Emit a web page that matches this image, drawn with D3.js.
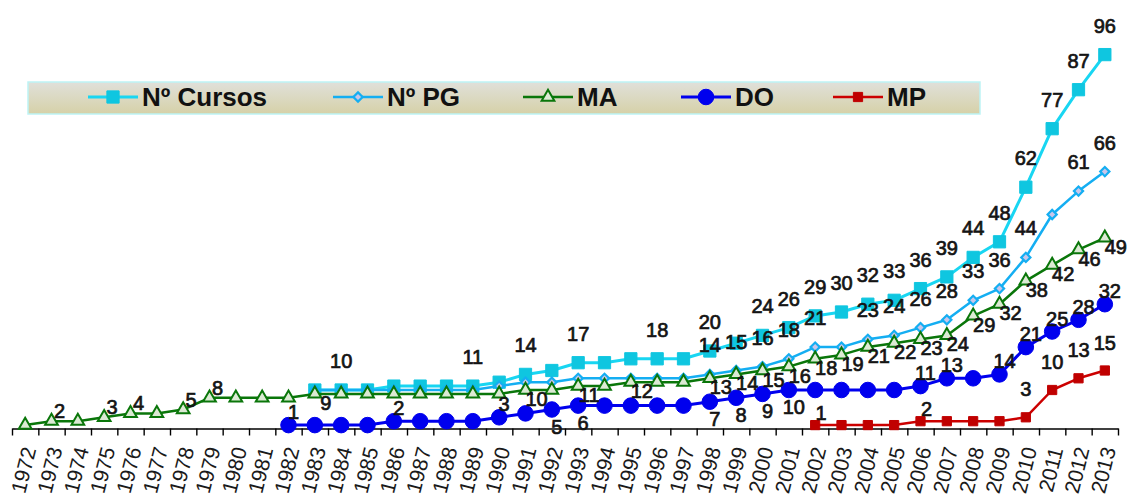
<!DOCTYPE html>
<html>
<head>
<meta charset="utf-8">
<script src="https://cdn.jsdelivr.net/npm/d3@7"></script>
<style>
  body { margin: 0; background: #fff; }
  text { font-family: "Liberation Sans", Arial, sans-serif; }
</style>
</head>
<body>
<div id="graphic"></div>
<script>
// categories (x axis)
var yearLabels = ["1972", "1973", "1974", "1975", "1976", "1977", "1978", "1979", "1980", "1981",
    "1982", "1983", "1984", "1985", "1986", "1987", "1988", "1989", "1990", "1991",
    "1992", "1993", "1994", "1995", "1996", "1997", "1998", "1999", "2000", "2001",
    "2002", "2003", "2004", "2005", "2006", "2007", "2008", "2009", "2010", "2011",
    "2012", "2013"];

// series values, each starting at its first year
var cursosStart = 1983;
var cursos = [10, 10, 10, 11, 11, 11, 11, 12, 14, 15, 17, 17, 18, 18, 18, 20, 22, 24, 26, 29,
    30, 32, 33, 36, 39, 44, 48, 62, 77, 87, 96];
var pgStart = 1983;
var pg = [10, 10, 10, 10, 10, 10, 10, 11, 12, 12, 13, 13, 13, 13, 13, 14, 15, 16, 18, 21,
    21, 23, 24, 26, 28, 33, 36, 44, 55, 61, 66];
var maStart = 1972;
var ma = [1, 2, 2, 3, 4, 4, 5, 8, 8, 8, 8, 9, 9, 9, 9, 9, 9, 9, 9, 10,
    10, 11, 11, 12, 12, 12, 13, 14, 15, 16, 18, 19, 21, 22, 23, 24, 29, 32, 38, 42,
    46, 49];
var doStart = 1982;
var doSeries = [1, 1, 1, 1, 2, 2, 2, 2, 3, 4, 5, 6, 6, 6, 6, 6, 7, 8, 9, 10,
    10, 10, 10, 10, 11, 13, 13, 14, 21, 25, 28, 32];
var mpStart = 2002;
var mp = [1, 1, 1, 1, 2, 2, 2, 2, 3, 10, 13, 15];

// years whose value is written on the chart
var cursosLabelled = [1984, 1989, 1991, 1993, 1996, 1998, 2000, 2001, 2002, 2003, 2004, 2005,
    2006, 2007, 2008, 2009, 2010, 2011, 2012, 2013];
var pgLabelled = [1998, 1999, 2000, 2001, 2002, 2004, 2005, 2006, 2007, 2008, 2009, 2010, 2012, 2013];
var maLabelled = [1973, 1975, 1976, 1978, 1979, 1983, 1991, 1993, 1995, 1998, 1999, 2000, 2001,
    2002, 2003, 2004, 2005, 2006, 2007, 2008, 2009, 2010, 2011, 2012, 2013];
var doLabelled = [1982, 1986, 1990, 1992, 1993, 1998, 1999, 2000, 2001, 2006, 2007, 2009,
    2010, 2011, 2012, 2013];
var mpLabelled = [2002, 2006, 2010, 2011, 2012, 2013];

var svgWidth = 1131;
var svgHeight = 495;

var svg = d3.select("#graphic")
    .append("svg")
    .attr("width", svgWidth)
    .attr("height", svgHeight);

var x = d3.scaleBand().domain(yearLabels).range([12, 1118]);
var y = d3.scaleLinear().domain([0, 100]).range([429, 39]);
var axisY = 428.5;

function cx(year) { return x(String(year)) + x.bandwidth() / 2; }

function toPoints(start, values, labelled) {
    return values.map(function(v, i) {
        var yr = start + i;
        return { year: yr, value: v, label: labelled.indexOf(yr) >= 0 };
    });
}

var series = [
    { name: "N\u00ba Cursos", pts: toPoints(cursosStart, cursos, cursosLabelled),
      line: "#18d6f2", width: 3, symbol: d3.symbolSquare, size: 150, rot: 0,
      fill: "#0fc6e0", stroke: "#0fc6e0", sw: 1,
      off: function(d) { return [0, -29]; } },
    { name: "N\u00ba PG", pts: toPoints(pgStart, pg, pgLabelled),
      line: "#14aef2", width: 2.5, symbol: d3.symbolSquare, size: 42, rot: 45,
      fill: "#c9c6ea", stroke: "#14aef2", sw: 2.2,
      off: function(d) { return [0, -29]; } },
    { name: "MA", pts: toPoints(maStart, ma, maLabelled),
      line: "#0a760a", width: 2.5, symbol: d3.symbolTriangle, size: 70, rot: 0,
      fill: "#dcead4", stroke: "#0a760a", sw: 2,
      off: function(d) { return d.year < 1983 ? [8, -10] : [11, 9]; } },
    { name: "DO", pts: toPoints(doStart, doSeries, doLabelled),
      line: "#0000ee", width: 3, symbol: d3.symbolCircle, size: 190, rot: 0,
      fill: "#0000ee", stroke: "#0000ee", sw: 1,
      off: function(d) { return (d.year > 1990 && d.year < 2006) ? [5, 17] : [5, -13]; } },
    { name: "MP", pts: toPoints(mpStart, mp, mpLabelled),
      line: "#cc0000", width: 2.5, symbol: d3.symbolSquare, size: 85, rot: 0,
      fill: "#c00000", stroke: "#c00000", sw: 1,
      off: function(d) { return d.year < 2010 ? [6, -12] : [0, -28]; } }
];

// axis: ticks between categories
var tickScale = d3.scaleLinear().domain([0, yearLabels.length]).range([12, 1118]);
var tickAxis = svg.append("g")
    .attr("transform", "translate(0," + axisY + ")")
    .call(d3.axisBottom(tickScale)
        .tickValues(d3.range(yearLabels.length + 1))
        .tickSize(7)
        .tickSizeOuter(0)
        .tickFormat(""));
tickAxis.select(".domain").attr("stroke", "#000").attr("stroke-width", 1.6);
tickAxis.selectAll(".tick line").attr("stroke", "#000").attr("stroke-width", 1.4);

var labelAxis = svg.append("g")
    .attr("transform", "translate(0," + axisY + ")")
    .call(d3.axisBottom(x).tickSize(0));
labelAxis.select(".domain").remove();
labelAxis.selectAll("text")
    .attr("x", 0)
    .attr("y", 0)
    .attr("dy", "0.35em")
    .attr("transform", "translate(4,19) rotate(-76)")
    .style("text-anchor", "end")
    .style("font-size", "21px")
    .style("font-family", "'Liberation Sans', Arial, sans-serif")
    .attr("fill", "#1a1a1a");

// lines and markers
var line = d3.line()
    .x(function(d) { return cx(d.year); })
    .y(function(d) { return y(d.value); });

var chart = svg.append("g");
series.forEach(function(s) {
    var g = chart.append("g");
    g.append("path")
        .datum(s.pts)
        .attr("d", line)
        .attr("fill", "none")
        .attr("stroke", s.line)
        .attr("stroke-width", s.width)
        .attr("stroke-linejoin", "round");
    g.selectAll("path.mark")
        .data(s.pts)
        .enter()
        .append("path")
        .attr("class", "mark")
        .attr("d", d3.symbol().type(s.symbol).size(s.size))
        .attr("transform", function(d) {
            return "translate(" + cx(d.year) + "," + y(d.value) + ") rotate(" + s.rot + ")";
        })
        .attr("fill", s.fill)
        .attr("stroke", s.stroke)
        .attr("stroke-width", s.sw);
});

// data labels
series.forEach(function(s) {
    chart.append("g").selectAll("text")
        .data(s.pts.filter(function(d) { return d.label; }))
        .enter()
        .append("text")
        .attr("x", function(d) { return cx(d.year) + s.off(d)[0]; })
        .attr("y", function(d) { return y(d.value) + s.off(d)[1]; })
        .attr("dy", "0.35em")
        .attr("text-anchor", "middle")
        .style("font-size", "20px")
        .attr("fill", "#141414")
        .attr("stroke", "#141414")
        .attr("stroke-width", 0.7)
        .text(function(d) { return d.value; });
});

// legend
var defs = svg.append("defs");
var grad = defs.append("linearGradient")
    .attr("id", "legendFill")
    .attr("x1", 0).attr("y1", 0).attr("x2", 0).attr("y2", 1);
grad.append("stop").attr("offset", "0%").attr("stop-color", "#e0e0da");
grad.append("stop").attr("offset", "100%").attr("stop-color", "#d6d1a8");

var legend = svg.append("g");
legend.append("rect")
    .attr("x", 28).attr("y", 82)
    .attr("width", 952).attr("height", 32)
    .attr("fill", "url(#legendFill)")
    .attr("stroke", "#bdf3f5")
    .attr("stroke-width", 1.5);

var legendX = [88, 333, 523, 681, 833];
series.forEach(function(s, i) {
    var lg = legend.append("g").attr("transform", "translate(" + legendX[i] + ",97)");
    lg.append("line")
        .attr("x1", 0).attr("x2", 50)
        .attr("stroke", s.line)
        .attr("stroke-width", s.width);
    lg.append("path")
        .attr("d", d3.symbol().type(s.symbol).size(s.size))
        .attr("transform", "translate(25,0) rotate(" + s.rot + ")")
        .attr("fill", s.fill)
        .attr("stroke", s.stroke)
        .attr("stroke-width", s.sw);
    lg.append("text")
        .attr("x", 54)
        .attr("dy", "0.36em")
        .style("font-size", "26px")
        .style("font-weight", "bold")
        .attr("fill", "#111")
        .text(s.name);
});
</script>
</body>
</html>
